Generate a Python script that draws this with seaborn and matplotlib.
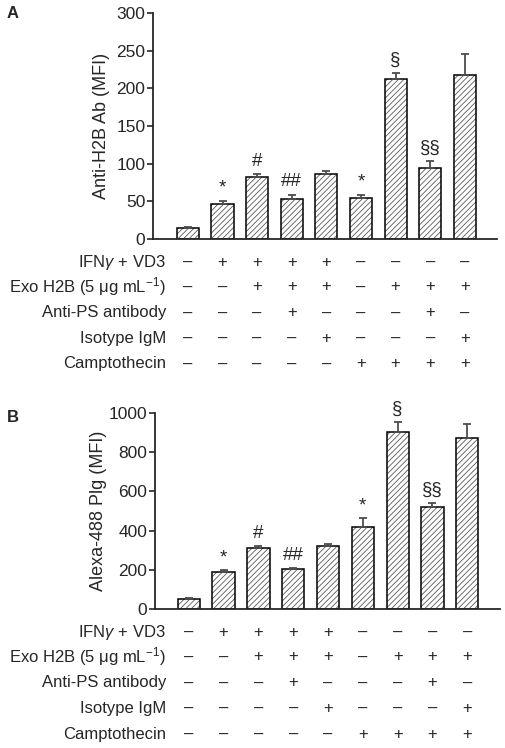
import numpy as np
import pandas as pd
import matplotlib
matplotlib.use("Agg")
import matplotlib.pyplot as plt
import seaborn as sns
from matplotlib.transforms import blended_transform_factory

# ── Data ──────────────────────────────────────────────────────────────────────
groups = ["g1", "g2", "g3", "g4", "g5", "g6", "g7", "g8", "g9"]

h2b_mean = [14, 46, 82, 53, 86, 54, 213, 94, 218]
h2b_err = [2, 5, 4, 6, 4, 5, 8, 10, 28]
h2b_marks = ["", "*", "#", "##", "", "*", "§", "§§", ""]

plg_mean = [50, 190, 312, 203, 322, 418, 905, 522, 875]
plg_err = [4, 8, 10, 4, 12, 44, 50, 20, 68]
plg_marks = ["", "*", "#", "##", "", "*", "§", "§§", ""]

row_labels = ["IFN$\\it{γ}$ + VD3", "Exo H2B (5 μg mL$^{−1}$)", "Anti-PS antibody",
              "Isotype IgM", "Camptothecin"]
ifn = "-++++----"
exo = "--+++-+++"
anti_ps = "---+---+-"
isotype = "----+---+"
campto = "-----++++"
rows = [ifn, exo, anti_ps, isotype, campto]

# ── Style ─────────────────────────────────────────────────────────────────────
sns.set_style("ticks")
plt.rcParams["font.family"] = ["Liberation Sans", "DejaVu Sans"]
plt.rcParams["mathtext.fontset"] = "custom"
plt.rcParams["mathtext.rm"] = "Liberation Sans"
plt.rcParams["mathtext.it"] = "Liberation Sans:italic"
plt.rcParams["hatch.linewidth"] = 0.6

W, H = 506, 748
FS = 12
fig = plt.figure(figsize=(W / 100, H / 100), dpi=100)


def px_axes(left, right, top, bottom):
    return fig.add_axes([left / W, 1 - bottom / H, (right - left) / W, (bottom - top) / H])


def panel(ax, means, errs, marks, ymax, ystep, ylabel, xlim, label_x, table_y, letter, letter_y):
    df = pd.DataFrame({"group": groups, "value": means})
    sns.barplot(data=df, x="group", y="value", order=groups, color="white",
                edgecolor="0.35", hatch="//////", linewidth=0, width=0.64,
                errorbar=None, ax=ax)
    sns.barplot(data=df, x="group", y="value", order=groups, fill=False,
                edgecolor="black", linewidth=1.1, width=0.64, errorbar=None, ax=ax)
    x = np.arange(len(groups))
    ax.errorbar(x, means, yerr=[np.zeros(len(errs)), errs], fmt="none",
                ecolor="0.3", elinewidth=1.3, capsize=3, capthick=1.3, zorder=1)
    for xi, m, e, s in zip(x, means, errs, marks):
        if s:
            ax.annotate(s, (xi, m + e), xytext=(0, 3), textcoords="offset points",
                        ha="center", va="bottom", fontsize=FS + 1.5)

    ax.set_xlim(*xlim)
    ax.set_ylim(0, ymax)
    ax.set_yticks(np.arange(0, ymax + 1, ystep))
    ax.set_xticks([])
    ax.set_xlabel("")
    ax.set_ylabel(ylabel, fontsize=FS + 1)
    ax.yaxis.set_label_coords(label_x, 0.5)
    ax.tick_params(axis="y", labelsize=FS + 0.5, length=4, width=1.2, pad=1.5, direction="out")
    sns.despine(ax=ax)
    for sp in ("left", "bottom"):
        ax.spines[sp].set_linewidth(1.3)

    # treatment table under the bars
    tr = blended_transform_factory(ax.transData, fig.transFigure)
    for ry, name, signs in zip(table_y, row_labels, rows):
        fy = 1 - ry / H
        fig.text(166 / W, fy, name, ha="right", va="center", fontsize=FS)
        for xi, s in zip(x, signs):
            ax.text(xi, fy, "+" if s == "+" else "–", transform=tr, ha="center",
                    va="center", fontsize=FS, clip_on=False)

    fig.text(7 / W, 1 - letter_y / H, letter, ha="left", va="center",
             fontsize=FS, fontweight="bold")


ax_a = px_axes(153, 497, 13, 239)
panel(ax_a, h2b_mean, h2b_err, h2b_marks, 300, 50, "Anti-H2B Ab (MFI)",
      (-1.01, 8.93), -0.125, [262, 287, 313, 338, 364], "A", 14)

ax_b = px_axes(155, 500, 413, 609)
panel(ax_b, plg_mean, plg_err, plg_marks, 1000, 200, "Alexa-488 Plg (MFI)",
      (-0.97, 8.94), -0.139, [632, 657, 683, 708, 734], "B", 417)

fig.savefig("out.png", dpi=100)
